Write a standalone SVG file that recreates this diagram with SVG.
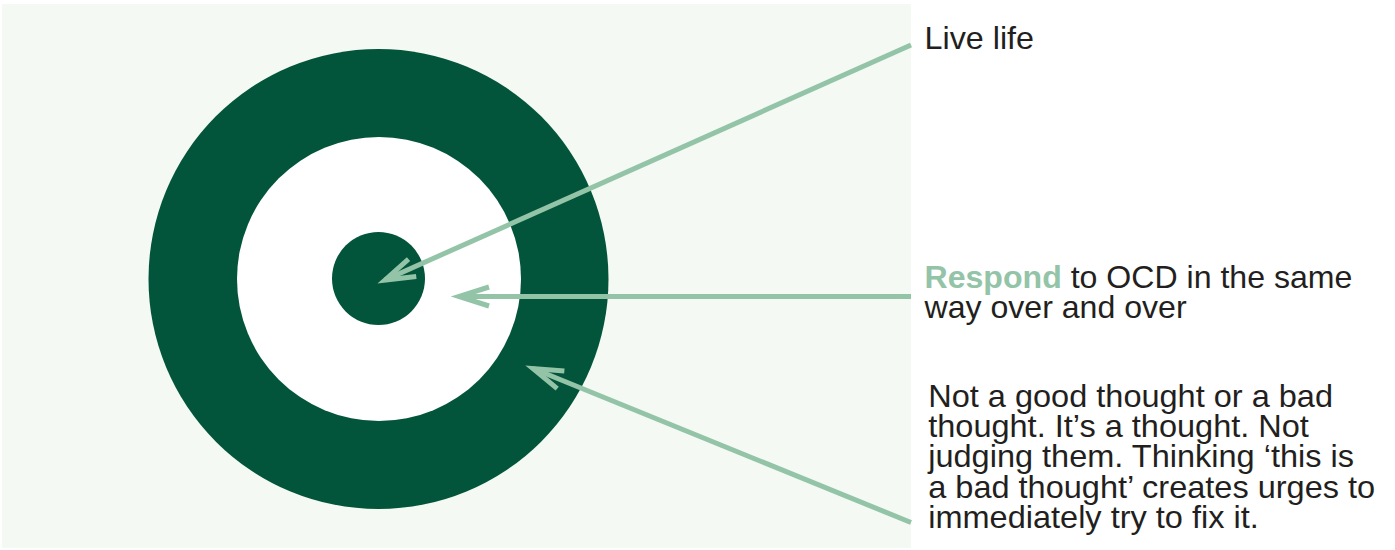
<svg xmlns="http://www.w3.org/2000/svg" width="1395" height="550" viewBox="0 0 1395 550">
  <defs>
    <style>
      .txt { font-family: "Liberation Sans", Arial, sans-serif; font-size: 30.5px; fill: #231f20; }
      .hl { fill: #93c4a8; font-weight: bold; }
      .conn { stroke: #93c4a8; stroke-width: 5; fill: none; }
    </style>
    <marker id="arrow" markerUnits="userSpaceOnUse" markerWidth="50" markerHeight="40" viewBox="-40 -20 50 40" refX="0" refY="0" orient="auto">
      <path d="M-30,-9.5 L0,0 L-30,9.5" fill="none" stroke="#93c4a8" stroke-width="5" stroke-linejoin="miter"/>
    </marker>
  </defs>
  <rect x="0" y="0" width="1395" height="550" fill="#ffffff"/>
  <rect id="panel" x="2" y="4" width="909" height="544" fill="#f4f9f3"/>
  <g id="target">
    <circle cx="378.5" cy="279" r="230" fill="#02553a"/>
    <circle cx="379" cy="279" r="142" fill="#ffffff"/>
    <circle cx="378.5" cy="278.5" r="46.5" fill="#02553a"/>
  </g>
  <g id="connectors">
    <line class="conn" x1="911" y1="45" x2="385" y2="280" marker-end="url(#arrow)"/>
    <line class="conn" x1="911" y1="296.5" x2="459" y2="296.5" marker-end="url(#arrow)"/>
    <line class="conn" x1="911" y1="522.5" x2="533" y2="368.5" marker-end="url(#arrow)"/>
  </g>
  <g id="label-live" transform="translate(924.5,0) scale(1.06,1)">
    <text class="txt" x="0" y="49.3">Live life</text>
  </g>
  <g id="label-respond" transform="translate(924.5,0) scale(1.052,1)">
    <text class="txt" x="0" y="288.5"><tspan class="hl">Respond</tspan> to OCD in the same</text>
    <text class="txt" x="0" y="318.5">way over and over</text>
  </g>
  <g id="label-thought" transform="translate(928.2,0) scale(1.066,1)">
    <text class="txt" x="0" y="407">Not a good thought or a bad</text>
    <text class="txt" x="0" y="437.2">thought. It’s a thought. Not</text>
    <text class="txt" x="0" y="467.4">judging them. Thinking ‘this is</text>
    <text class="txt" x="0" y="497.6">a bad thought’ creates urges to</text>
    <text class="txt" x="0" y="527.8">immediately try to fix it.</text>
  </g>
</svg>
